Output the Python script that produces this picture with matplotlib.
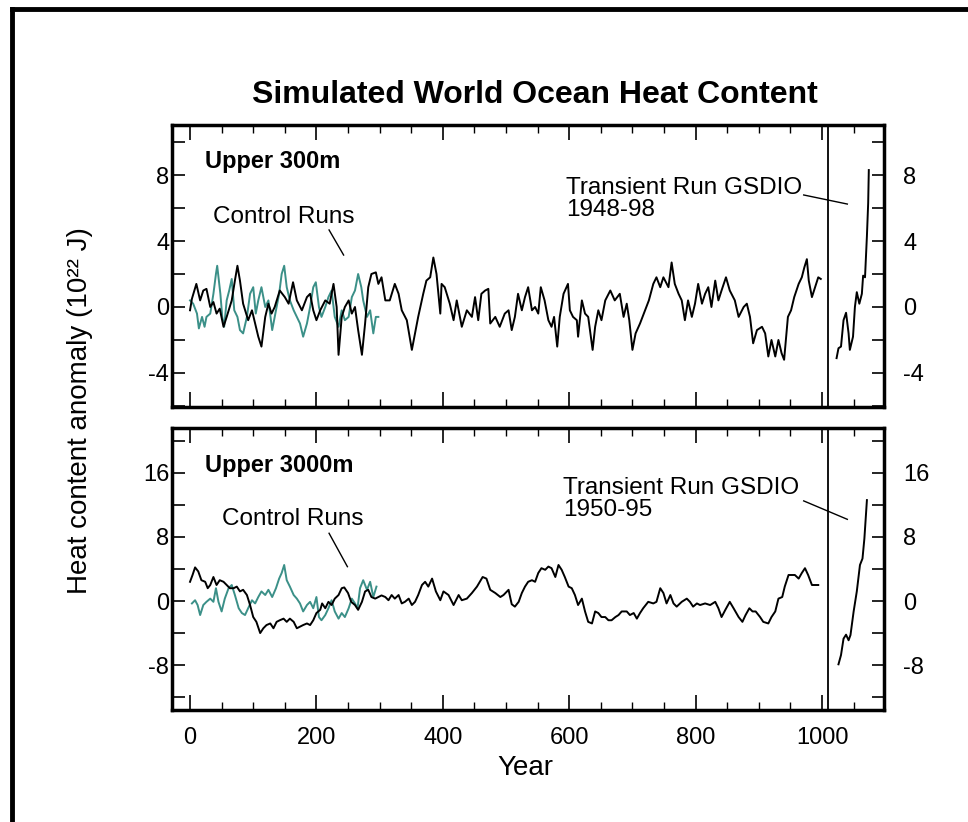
import matplotlib
matplotlib.use("Agg")
import matplotlib.pyplot as plt
from matplotlib.lines import Line2D
from matplotlib.ticker import MultipleLocator

plt.rcParams['font.family'] = ['Liberation Sans', 'DejaVu Sans']
plt.rcParams['axes.unicode_minus'] = False

# --- Upper 300 m, control runs (model year, 10^22 J) ---
yr300_blk = [0, 3, 10, 16, 21, 26, 32, 37, 42, 47, 53, 58, 66, 71, 75, 79, 84, 92, 98, 103,
             108, 113, 119, 124, 129, 134, 142, 150, 156, 163, 169, 177, 185, 190, 195, 200,
             206, 214, 221, 227, 232, 235, 240, 245, 251, 256, 261, 266, 272, 277, 282, 287,
             294, 298, 303, 309, 316, 324, 330, 335, 343, 351, 356, 361, 369, 374, 380, 385,
             390, 396, 398, 403, 411, 417, 422, 430, 438, 446, 451, 456, 461, 467, 472, 475,
             483, 490, 498, 504, 509, 514, 519, 525, 530, 535, 541, 546, 551, 555, 561, 567,
             572, 576, 581, 585, 591, 598, 601, 606, 612, 614, 620, 625, 630, 637, 641, 646,
             651, 657, 665, 672, 680, 686, 691, 695, 700, 705, 712, 720, 726, 733, 738, 744,
             749, 757, 762, 767, 773, 778, 783, 788, 794, 799, 804, 810, 815, 820, 825, 831,
             836, 841, 848, 854, 862, 868, 876, 881, 886, 891, 897, 905, 910, 915, 920, 926,
             931, 936, 940, 946, 951, 956, 963, 968, 972, 976, 979, 984, 989, 994, 998]
ohc300_blk = [-0.2, 0.5, 1.4, 0.4, 1.0, 1.1, 0.0, 0.3, -0.4, -0.1, -1.2, -0.6, 0.4, 1.6, 2.5,
              1.6, 0.2, -0.8, -0.2, -1.0, -1.8, -2.4, -0.6, 0.2, -0.4, 0.0, 1.0, 0.6, 0.2, 1.5,
              0.4, -0.2, 0.6, 0.8, -0.2, -0.8, -0.2, 0.4, 0.2, 1.4, 0.0, -2.9, -0.6, 0.0, 0.4,
              -0.4, 0.0, -1.4, -2.9, -1.0, 1.2, 2.0, 2.1, 1.4, 1.8, 0.4, 0.4, 1.4, 0.8, -0.2,
              -0.8, -2.6, -1.6, -0.6, 0.8, 1.6, 1.8, 3.0, 2.0, -0.4, 1.4, 1.2, 0.2, -0.8, 0.4,
              -1.2, -0.2, -0.6, 0.6, -0.8, 0.8, 1.0, 1.1, -1.0, -0.6, -1.2, -0.4, -0.2, -1.4,
              -0.6, 0.8, -0.2, 0.6, 1.2, -0.2, 0.0, -0.4, 1.2, 0.4, -0.8, -1.2, -0.6, -2.4,
              -0.6, 0.8, 1.4, -0.2, -0.6, -0.8, -1.8, 0.4, -0.4, -0.6, -2.6, -1.2, -0.2, -0.8,
              0.4, 1.0, 0.4, 0.8, -0.6, 0.2, -0.8, -2.6, -1.6, -1.0, -0.2, 0.4, 1.4, 1.8, 1.2,
              1.8, 1.2, 2.7, 1.4, 0.8, 0.4, -0.8, 0.4, -0.6, 0.2, 1.4, 0.2, 0.8, 1.2, 0.0, 1.6,
              0.4, 1.0, 1.8, 1.0, 0.4, -0.6, 0.0, 0.2, -0.6, -2.2, -1.4, -1.2, -1.6, -3.0, -2.0,
              -3.0, -2.0, -2.8, -3.2, -0.6, -0.2, 0.6, 1.4, 1.8, 2.4, 2.9, 1.6, 0.6, 1.2, 1.8, 1.7]

yr300_tl = [0, 5, 11, 14, 19, 23, 26, 32, 37, 41, 43, 48, 51, 54, 58, 62, 66, 70, 75, 79, 84,
            90, 95, 100, 104, 108, 113, 119, 124, 130, 136, 141, 145, 149, 153, 158, 164, 169,
            174, 179, 185, 190, 195, 199, 204, 208, 214, 219, 224, 229, 235, 240, 245, 251,
            256, 261, 266, 271, 274, 280, 285, 290, 294, 298]
ohc300_tl = [0.4, 0.2, -0.4, -1.3, -0.6, -1.2, -0.6, -0.4, 0.8, 2.0, 2.5, 0.8, -0.6, -1.2, 0.4,
             1.0, 1.7, -0.2, -0.6, -1.4, -1.6, -0.6, 0.8, 1.2, -0.4, 0.4, 1.2, 0.0, 0.4, -1.4,
             -0.2, 0.8, 2.0, 2.5, 1.2, 0.4, -0.2, -0.6, -1.0, -1.8, -1.0, 0.0, 1.2, 1.5, 0.0,
             -0.6, 0.0, 0.6, 1.0, -0.6, -1.2, -0.2, -0.8, -0.6, 0.6, 1.0, 2.0, 1.2, 0.4, -0.6,
             -0.2, -1.6, -0.6, -0.6]

# transient run GSDIO 1948-98, drawn after the control runs
yr300_tr = [1023, 1026, 1030, 1034, 1038, 1042, 1044, 1049, 1052, 1055, 1059, 1063, 1065,
            1068, 1071, 1073, 1074]
ohc300_tr = [-3.1, -2.5, -2.4, -0.8, -0.35, -1.6, -2.6, -1.8, 0.0, 0.9, 0.2, 0.8, 1.9, 1.8,
             4.3, 6.3, 8.3]

# --- Upper 3000 m ---
yr3000_blk = [0, 4, 8, 13, 18, 24, 28, 32, 37, 42, 47, 53, 58, 63, 69, 74, 79, 84, 90, 95,
              100, 105, 111, 116, 121, 127, 132, 137, 142, 148, 153, 158, 164, 169, 174, 179,
              185, 190, 195, 200, 206, 209, 214, 219, 224, 229, 235, 240, 244, 250, 255, 261,
              266, 272, 277, 282, 287, 293, 298, 303, 309, 314, 319, 324, 330, 335, 340, 346,
              351, 356, 361, 367, 372, 377, 383, 389, 396, 401, 409, 417, 425, 430, 438, 446,
              454, 463, 469, 475, 483, 491, 496, 504, 509, 514, 520, 525, 530, 535, 541, 546,
              551, 556, 562, 567, 572, 578, 583, 588, 593, 599, 604, 609, 614, 620, 625, 630,
              636, 641, 646, 651, 657, 662, 667, 673, 678, 683, 691, 696, 702, 707, 712, 717,
              725, 733, 738, 744, 749, 754, 760, 765, 770, 778, 786, 791, 796, 802, 807, 815,
              823, 831, 836, 841, 847, 854, 860, 868, 874, 879, 885, 890, 895, 902, 907, 915,
              920, 926, 931, 937, 941, 947, 952, 957, 963, 968, 973, 978, 984, 989, 994]
ohc3000_blk = [2.4, 3.25, 4.2, 3.7, 2.6, 2.4, 1.6, 2.0, 3.0, 2.0, 2.6, 2.4, 2.0, 1.6, 1.6, 1.8,
               1.2, 1.4, 0.75, -0.5, -2.0, -2.6, -4.0, -3.4, -3.0, -2.8, -3.4, -2.6, -2.4,
               -2.2, -2.6, -2.2, -2.6, -3.4, -3.2, -3.0, -2.8, -3.0, -2.4, -1.5, -1.1, -0.3,
               -0.9, -0.1, -0.5, 0.3, 0.75, 1.6, 1.7, 1.0, -0.1, -0.5, -1.1, -0.1, 1.2, 1.4,
               0.5, 0.3, 0.5, 0.7, 0.5, 0.1, 0.75, 0.3, 0.75, -0.3, -0.1, 0.3, -0.5, -0.1,
               0.75, 2.0, 2.4, 1.8, 2.8, 1.2, 0.1, 1.2, 0.75, -0.5, 0.75, 0.1, 0.3, 1.0, 1.8,
               3.0, 2.8, 1.4, 1.0, 0.5, 0.75, 1.4, -0.4, -0.7, -0.1, 1.0, 1.8, 2.4, 2.6, 2.4,
               3.5, 4.1, 3.9, 4.3, 4.1, 3.0, 4.5, 3.9, 3.0, 1.8, 1.6, 0.75, -0.5, 0.3, -1.3,
               -2.6, -2.8, -1.3, -1.5, -2.0, -2.0, -2.4, -2.4, -2.0, -1.75, -1.3, -1.3, -1.75,
               -1.5, -2.2, -1.5, -0.9, -0.1, -0.3, -0.1, 1.6, 1.0, -0.3, 0.75, -0.3, -0.7,
               -0.1, 0.3, -0.1, -0.7, -0.3, -0.5, -0.3, -0.5, -0.1, -0.9, -2.0, -1.1, -0.1,
               -0.9, -2.0, -2.6, -1.75, -0.9, -1.3, -1.3, -2.0, -2.6, -2.8, -2.0, -1.3, 0.3,
               0.5, 1.8, 3.25, 3.25, 3.25, 2.8, 3.5, 4.1, 3.25, 2.0, 2.0, 2.0]

yr3000_tl = [3, 8, 12, 16, 21, 26, 32, 37, 41, 45, 50, 55, 61, 66, 71, 77, 82, 87, 92, 98,
             103, 108, 113, 119, 124, 130, 136, 141, 145, 149, 153, 158, 164, 169, 174, 179,
             185, 190, 195, 200, 204, 208, 214, 219, 224, 229, 235, 240, 245, 251, 256, 261,
             265, 269, 274, 280, 285, 290, 295]
ohc3000_tl = [-0.3, 0.1, -0.5, -1.75, -0.5, -0.1, 0.3, -0.1, 1.6, -0.1, -1.3, 0.3, 1.6, 2.0,
              0.75, -0.9, -1.5, -1.75, -0.9, 0.1, -0.3, 0.5, 1.2, 0.75, 1.4, 0.5, 1.6, 2.8,
              3.5, 4.5, 2.6, 1.8, 0.75, 0.3, -0.3, -1.3, -0.5, -0.1, -0.9, 0.5, -2.0, -2.4,
              -1.75, -0.9, 0.1, -1.3, -2.2, -1.5, -2.0, -0.9, 0.3, -0.3, -0.9, 1.6, 2.6, 1.4,
              2.4, 0.5, 1.8]

# transient run GSDIO 1950-95
yr3000_tr = [1026, 1030, 1034, 1038, 1042, 1045, 1050, 1055, 1060, 1064, 1067, 1071]
ohc3000_tr = [-7.9, -6.75, -4.7, -4.2, -4.9, -4.25, -1.3, 1.2, 4.5, 5.3, 7.8, 12.6]

teal = '#3b9088'

fig = plt.figure(figsize=(9.68, 8.22), dpi=100)
ax1 = fig.add_axes([0.1777, 0.5049, 0.7355, 0.343])
ax2 = fig.add_axes([0.1777, 0.1363, 0.7355, 0.343])

panels = [
    (ax1, yr300_tl, ohc300_tl, yr300_blk, ohc300_blk, yr300_tr, ohc300_tr,
     (-6.06, 11.03), [-4, 0, 4, 8], 2),
    (ax2, yr3000_tl, ohc3000_tl, yr3000_blk, ohc3000_blk, yr3000_tr, ohc3000_tr,
     (-13.6, 21.6), [-8, 0, 8, 16], 4),
]

for ax, xt, yt, xb, yb, xr, yrr, ylim, yticks, yminor in panels:
    ax.plot(xt, yt, color=teal, lw=1.4)
    ax.plot(xb, yb, color='black', lw=1.4)
    ax.plot(xr, yrr, color='black', lw=1.4)
    ax.axvline(1010, color='black', lw=1.3)
    ax.set_xlim(-28.5, 1098)
    ax.set_ylim(*ylim)
    ax.set_xticks([0, 200, 400, 600, 800, 1000])
    ax.xaxis.set_minor_locator(MultipleLocator(50))
    ax.set_yticks(yticks)
    ax.yaxis.set_minor_locator(MultipleLocator(yminor))
    ax.tick_params(axis='both', which='both', direction='in', top=True, right=True,
                   labelsize=17)
    ax.tick_params(axis='x', which='major', length=11, width=1.2, pad=12)
    ax.tick_params(axis='x', which='minor', length=6, width=1.0)
    ax.tick_params(axis='y', which='both', length=9, width=1.2, pad=2)
    for sp in ax.spines.values():
        sp.set_linewidth(2.5)
    # right-hand tick labels, further from the frame
    sec = ax.secondary_yaxis('right')
    sec.set_yticks(yticks)
    sec.tick_params(direction='in', length=0, labelsize=17, pad=14)
    sec.spines['right'].set_visible(False)

ax1.tick_params(axis='x', labelbottom=False)

# labels
ax1.text(24, 8.8, 'Upper 300m', fontsize=17, fontweight='bold', va='center')
ax1.text(36, 5.45, 'Control Runs', fontsize=17.5, va='center')
ax1.plot([220, 243], [4.67, 3.15], color='black', lw=1.0)
ax1.text(595, 6.55, 'Transient Run GSDIO\n1948-98', fontsize=17.5, va='center',
         linespacing=1.0)
ax1.plot([971, 1040], [6.79, 6.24], color='black', lw=1.0)

ax2.text(24, 16.9, 'Upper 3000m', fontsize=17, fontweight='bold', va='center')
ax2.text(51, 10.25, 'Control Runs', fontsize=17.5, va='center')
ax2.plot([220, 249], [8.46, 4.29], color='black', lw=1.0)
ax2.text(590, 12.7, 'Transient Run GSDIO\n1950-95', fontsize=17.5, va='center',
         linespacing=1.0)
ax2.plot([971, 1040], [12.5, 10.2], color='black', lw=1.0)

fig.text(0.5527, 0.8844, 'Simulated World Ocean Heat Content', fontsize=23,
         fontweight='bold', ha='center', va='center')
fig.text(80 / 968, 0.501, 'Heat content anomaly (10²² J)', fontsize=20, rotation=90,
         ha='center', va='center')
fig.text(525 / 968, 0.0657, 'Year', fontsize=20, ha='center', va='center')

# page frame (top and left edges)
fig.add_artist(Line2D([12 / 968, 1], [1 - 9 / 822] * 2, lw=3.5, color='black',
                      transform=fig.transFigure))
fig.add_artist(Line2D([12 / 968] * 2, [0, 1 - 9 / 822], lw=3.5, color='black',
                      transform=fig.transFigure))

fig.savefig('out.png', dpi=100)
